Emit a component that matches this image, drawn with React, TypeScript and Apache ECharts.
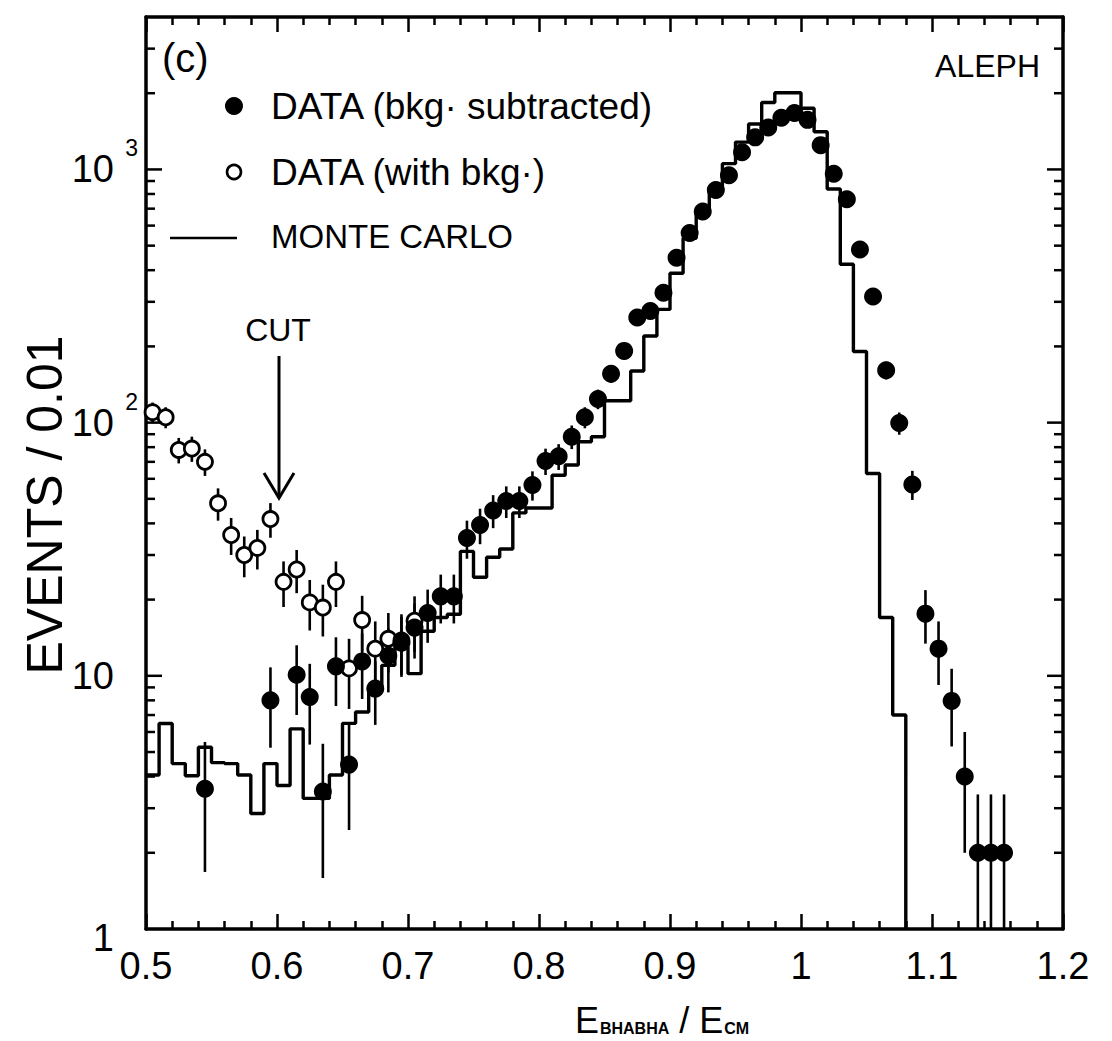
import React, { useEffect, useRef } from "react";
import * as echarts from "echarts";

// ---------- data ----------
// Monte Carlo histogram: low bin edges and contents (bin width 0.01)
const mcEdges = [
  0.50, 0.51, 0.52, 0.53, 0.54, 0.55, 0.56, 0.57, 0.58, 0.59,
  0.60, 0.61, 0.62, 0.63, 0.64, 0.65, 0.66, 0.67, 0.68, 0.69,
  0.70, 0.71, 0.72, 0.73, 0.74, 0.75, 0.76, 0.77, 0.78, 0.79,
  0.80, 0.81, 0.82, 0.83, 0.84, 0.85, 0.86, 0.87, 0.88, 0.89,
  0.90, 0.91, 0.92, 0.93, 0.94, 0.95, 0.96, 0.97, 0.98, 0.99,
  1.00, 1.01, 1.02, 1.03, 1.04, 1.05, 1.06, 1.07,
];
const mcValues = [
  4.06, 6.48, 4.5, 4.03, 5.22, 4.54, 4.5, 4.06, 2.86, 4.5,
  3.69, 6.17, 3.28, 3.28, 4.06, 6.49, 7.2, 8.7, 11, 13,
  10.2, 15, 17, 17.5, 31, 24.5, 29.4, 31.7, 44, 46,
  46, 62, 68, 84, 88, 122, 122, 160, 220, 280,
  389, 535, 692, 854, 1054, 1282, 1512, 1837, 2009, 2009,
  1745, 1408, 837, 422, 191, 63, 17, 7,
];
const MC_END = 1.08;

// DATA (bkg. subtracted): bin centres, contents, error half-widths
const subX = [
  0.545, 0.595, 0.615, 0.625, 0.635, 0.645, 0.655, 0.665, 0.675, 0.685,
  0.695, 0.705, 0.715, 0.725, 0.735, 0.745, 0.755, 0.765, 0.775, 0.785,
  0.795, 0.805, 0.815, 0.825, 0.835, 0.845, 0.855, 0.865, 0.875, 0.885,
  0.895, 0.905, 0.915, 0.925, 0.935, 0.945, 0.955, 0.965, 0.975, 0.985,
  0.995, 1.005, 1.015, 1.025, 1.035, 1.045, 1.055, 1.065, 1.075, 1.085,
  1.095, 1.105, 1.115, 1.125, 1.135, 1.145, 1.155,
];
const subY = [
  3.58, 8.0, 10.1, 8.25, 3.49, 10.9, 4.46, 11.4, 8.9, 12,
  13.5, 15.5, 17.7, 20.6, 20.6, 35, 39.4, 45, 49, 49,
  56.7, 70.5, 73.6, 88, 105, 124, 156, 192, 260, 276,
  326, 448, 561, 682, 829, 948, 1170, 1339, 1465, 1600,
  1670, 1570, 1247, 961, 763, 483, 315, 161, 99.6, 57,
  17.6, 12.8, 7.96, 4.0, 2.0, 2.0, 2.0,
];
const subErr = [
  1.9, 2.8, 3.1, 2.9, 1.9, 3.3, 2.0, 3.3, 2.5, 3.4,
  3.6, 3.8, 4.2, 4.5, 4.5, 6, 6.3, 6.7, 7, 7,
  7.5, 8.4, 8.6, 9.4, 10, 11, 12.5, 14, 16, 16.6,
  18, 21, 24, 26, 29, 31, 34, 37, 38, 40,
  41, 40, 35, 31, 28, 22, 18, 13, 10, 7.5,
  4.2, 3.6, 2.7, 2.0, 1.4, 1.4, 1.4,
];

// DATA (with bkg.)
const bkgX = [
  0.505, 0.515, 0.525, 0.535, 0.545, 0.555, 0.565, 0.575, 0.585, 0.595,
  0.605, 0.615, 0.625, 0.635, 0.645, 0.655, 0.665, 0.675, 0.685, 0.695,
  0.705,
];
const bkgY = [
  110, 105, 78, 79, 70, 48, 36, 30, 32, 41.6,
  23.5, 26.3, 19.5, 18.6, 23.5, 10.7, 16.6, 12.8, 14, 13.8,
  16.5,
];
const bkgErr = [
  10, 10, 9, 9, 8.4, 7, 6, 5.5, 5.7, 6.5,
  4.8, 5.1, 4.4, 4.3, 4.8, 3.3, 4.1, 3.6, 3.7, 3.7,
  4.1,
];

const X_MIN = 0.5;
const X_MAX = 1.2;
const Y_MIN = 1;
const Y_MAX = 4000;
const yMajorTicks = [10, 100, 1000];
const yMinorTicks = [
  2, 3, 4, 5, 6, 7, 8, 9,
  20, 30, 40, 50, 60, 70, 80, 90,
  200, 300, 400, 500, 600, 700, 800, 900,
  2000, 3000,
];

const FONT = "'Liberation Sans', Arial, Helvetica, sans-serif";

export default function App() {
  const ref = useRef<HTMLDivElement>(null);

  useEffect(() => {
    if (!ref.current) return;
    const chart = echarts.init(ref.current, undefined, { renderer: "svg" });

    const mcData: number[][] = mcEdges.map((x, i) => [x, mcValues[i]]);
    mcData.push([MC_END, Y_MIN]);

    const subPts = subX.map((x, i) => [x, subY[i]]);
    const bkgPts = bkgX.map((x, i) => [x, bkgY[i]]);
    const subBars = subX.map((x, i) => [x, subY[i] - subErr[i], subY[i] + subErr[i]]);
    const bkgBars = bkgX.map((x, i) => [x, bkgY[i] - bkgErr[i], bkgY[i] + bkgErr[i]]);

    const tickData = [
      ...yMajorTicks.map((v) => [X_MIN, v, 1]),
      ...yMinorTicks.map((v) => [X_MIN, v, 0]),
    ];

    const errRender = (params: any, api: any) => {
      const x = api.value(0);
      const lo = Math.max(api.value(1), Y_MIN);
      const hi = api.value(2);
      const p1 = api.coord([x, lo]);
      const p2 = api.coord([x, hi]);
      return {
        type: "line",
        shape: { x1: p1[0], y1: p1[1], x2: p2[0], y2: p2[1] },
        style: { stroke: "#000", lineWidth: 2.6 },
      };
    };

    const yLabel = (v: number) => {
      const lg = Math.log10(v);
      const r = Math.round(lg);
      if (Math.abs(lg - r) > 1e-6) return "";
      if (r === 0) return "{one|1}{sp2| }";
      if (r === 1) return "{b|10}{sp| }";
      return "{b|10}{s|" + r + "}";
    };

    const yRich = {
      b: { fontSize: 38, fontFamily: FONT, color: "#000" },
      one: { fontSize: 38, fontFamily: FONT, color: "#000", padding: [18, 0, 0, 0] },
      s: { fontSize: 23, fontFamily: FONT, color: "#000", padding: [0, 0, 42, 4], width: 20 },
      sp: { fontSize: 23, width: 24 },
      sp2: { fontSize: 23, width: 24 },
    };

    const option: any = {
      animation: false,
      backgroundColor: "#fff",
      grid: { left: 146, right: 49, top: 17, bottom: 112, containLabel: false },
      xAxis: [
        {
          type: "value",
          min: X_MIN,
          max: X_MAX,
          interval: 0.1,
          position: "bottom",
          axisLine: { show: true, onZero: false, lineStyle: { color: "#000", width: 3.5 } },
          axisTick: { show: true, inside: true, length: 15, lineStyle: { color: "#000", width: 2.5 } },
          minorTick: { show: true, splitNumber: 5, length: 8, lineStyle: { color: "#000", width: 2.5 } },
          splitLine: { show: false },
          axisLabel: {
            margin: 18,
            fontSize: 38,
            fontFamily: FONT,
            color: "#000",
            formatter: (v: number) => String(Number(v.toFixed(1))),
          },
        },
        {
          type: "value",
          min: X_MIN,
          max: X_MAX,
          interval: 0.1,
          position: "top",
          axisLine: { show: true, onZero: false, lineStyle: { color: "#000", width: 3.5 } },
          axisTick: { show: true, inside: true, length: 15, lineStyle: { color: "#000", width: 2.5 } },
          minorTick: { show: true, splitNumber: 5, length: 8, lineStyle: { color: "#000", width: 2.5 } },
          splitLine: { show: false },
          axisLabel: { show: false },
        },
      ],
      yAxis: [
        {
          type: "log",
          logBase: 10,
          min: Y_MIN,
          max: Y_MAX,
          position: "left",
          axisLine: { show: true, onZero: false, lineStyle: { color: "#000", width: 3.5 } },
          axisTick: { show: false },
          minorTick: { show: false },
          splitLine: { show: false },
          axisLabel: {
            margin: 8,
            showMaxLabel: false,
            formatter: yLabel,
            rich: yRich,
          },
        },
        {
          type: "log",
          logBase: 10,
          min: Y_MIN,
          max: Y_MAX,
          position: "right",
          axisLine: { show: true, onZero: false, lineStyle: { color: "#000", width: 3.5 } },
          axisTick: { show: false },
          minorTick: { show: false },
          splitLine: { show: false },
          axisLabel: { show: false },
        },
      ],
      series: [
        {
          name: "MONTE CARLO",
          type: "line",
          step: "end",
          data: mcData,
          showSymbol: false,
          symbol: "none",
          lineStyle: { color: "#000", width: 3.4, opacity: 1 },
          z: 2,
          clip: true,
        },
        {
          name: "ticks",
          type: "custom",
          data: tickData,
          encode: { x: 0, y: 1 },
          renderItem: (params: any, api: any) => {
            const v = api.value(1);
            const major = api.value(2) === 1;
            const len = major ? 16 : 9;
            const l = api.coord([X_MIN, v]);
            const r = api.coord([X_MAX, v]);
            return {
              type: "group",
              children: [
                { type: "line", shape: { x1: l[0], y1: l[1], x2: l[0] + len, y2: l[1] }, style: { stroke: "#000", lineWidth: 2.5 } },
                { type: "line", shape: { x1: r[0] - len, y1: r[1], x2: r[0], y2: r[1] }, style: { stroke: "#000", lineWidth: 2.5 } },
              ],
            };
          },
          z: 6,
          silent: true,
        },
        {
          name: "bkg errors",
          type: "custom",
          data: bkgBars,
          encode: { x: 0, y: [1, 2] },
          renderItem: errRender,
          z: 3,
          silent: true,
        },
        {
          name: "DATA (with bkg.)",
          type: "scatter",
          data: bkgPts,
          symbol: "circle",
          symbolSize: 15,
          itemStyle: { color: "#fff", borderColor: "#000", borderWidth: 2.8, opacity: 1 },
          z: 4,
        },
        {
          name: "sub errors",
          type: "custom",
          data: subBars,
          encode: { x: 0, y: [1, 2] },
          renderItem: errRender,
          z: 3,
          silent: true,
        },
        {
          name: "DATA (bkg. subtracted)",
          type: "scatter",
          data: subPts,
          symbol: "circle",
          symbolSize: 18,
          itemStyle: { color: "#000", opacity: 1 },
          z: 5,
        },
      ],
      graphic: [
        { type: "text", left: 162, top: 38, style: { text: "(c)", fontSize: 40, fontFamily: FONT, fill: "#000" } },
        { type: "circle", shape: { cx: 234, cy: 106, r: 9 }, style: { fill: "#000" } },
        { type: "text", x: 271, y: 106, style: { text: "DATA (bkg\u00b7 subtracted)", fontSize: 37, fontFamily: FONT, fill: "#000", verticalAlign: "middle" } },
        { type: "circle", shape: { cx: 234, cy: 172, r: 7 }, style: { fill: "#fff", stroke: "#000", lineWidth: 2.6 } },
        { type: "text", x: 271, y: 172, style: { text: "DATA (with bkg\u00b7)", fontSize: 37, fontFamily: FONT, fill: "#000", verticalAlign: "middle" } },
        { type: "line", shape: { x1: 170, y1: 238, x2: 237, y2: 238 }, style: { stroke: "#000", lineWidth: 2.5 } },
        { type: "text", x: 271, y: 236, style: { text: "MONTE CARLO", fontSize: 33, fontFamily: FONT, fill: "#000", verticalAlign: "middle" } },
        { type: "text", x: 1040, y: 66, style: { text: "ALEPH", fontSize: 32, fontFamily: FONT, fill: "#000", align: "right", verticalAlign: "middle" } },
        { type: "text", x: 278, y: 330, style: { text: "CUT", fontSize: 32, fontFamily: FONT, fill: "#000", align: "center", verticalAlign: "middle" } },
        { type: "line", shape: { x1: 279, y1: 356, x2: 279, y2: 496 }, style: { stroke: "#000", lineWidth: 3 } },
        { type: "polyline", shape: { points: [[264, 473], [279, 498], [294, 473]] }, style: { stroke: "#000", lineWidth: 3, fill: "none" } },
        {
          type: "text",
          x: 45,
          y: 505,
          rotation: Math.PI / 2,
          style: { text: "EVENTS / 0.01", fontSize: 50, fontFamily: FONT, fill: "#000", align: "center", verticalAlign: "middle" },
        },
        {
          type: "text",
          x: 662,
          y: 1020,
          style: {
            text: "{e|E}{s|BHABHA}{e| / E}{s|CM}",
            align: "center",
            verticalAlign: "middle",
            rich: {
              e: { fontSize: 36, fontFamily: FONT, fill: "#000" },
              s: { fontSize: 16, fontWeight: "bold", fontFamily: FONT, fill: "#000", padding: [16, 0, 0, 1] },
            },
          },
        },
      ],
    };

    chart.setOption(option);
    return () => chart.dispose();
  }, []);

  return (
    <div
      ref={ref}
      style={{ position: "absolute", left: 0, top: 0, width: 1112, height: 1041, background: "#fff" }}
    />
  );
}
